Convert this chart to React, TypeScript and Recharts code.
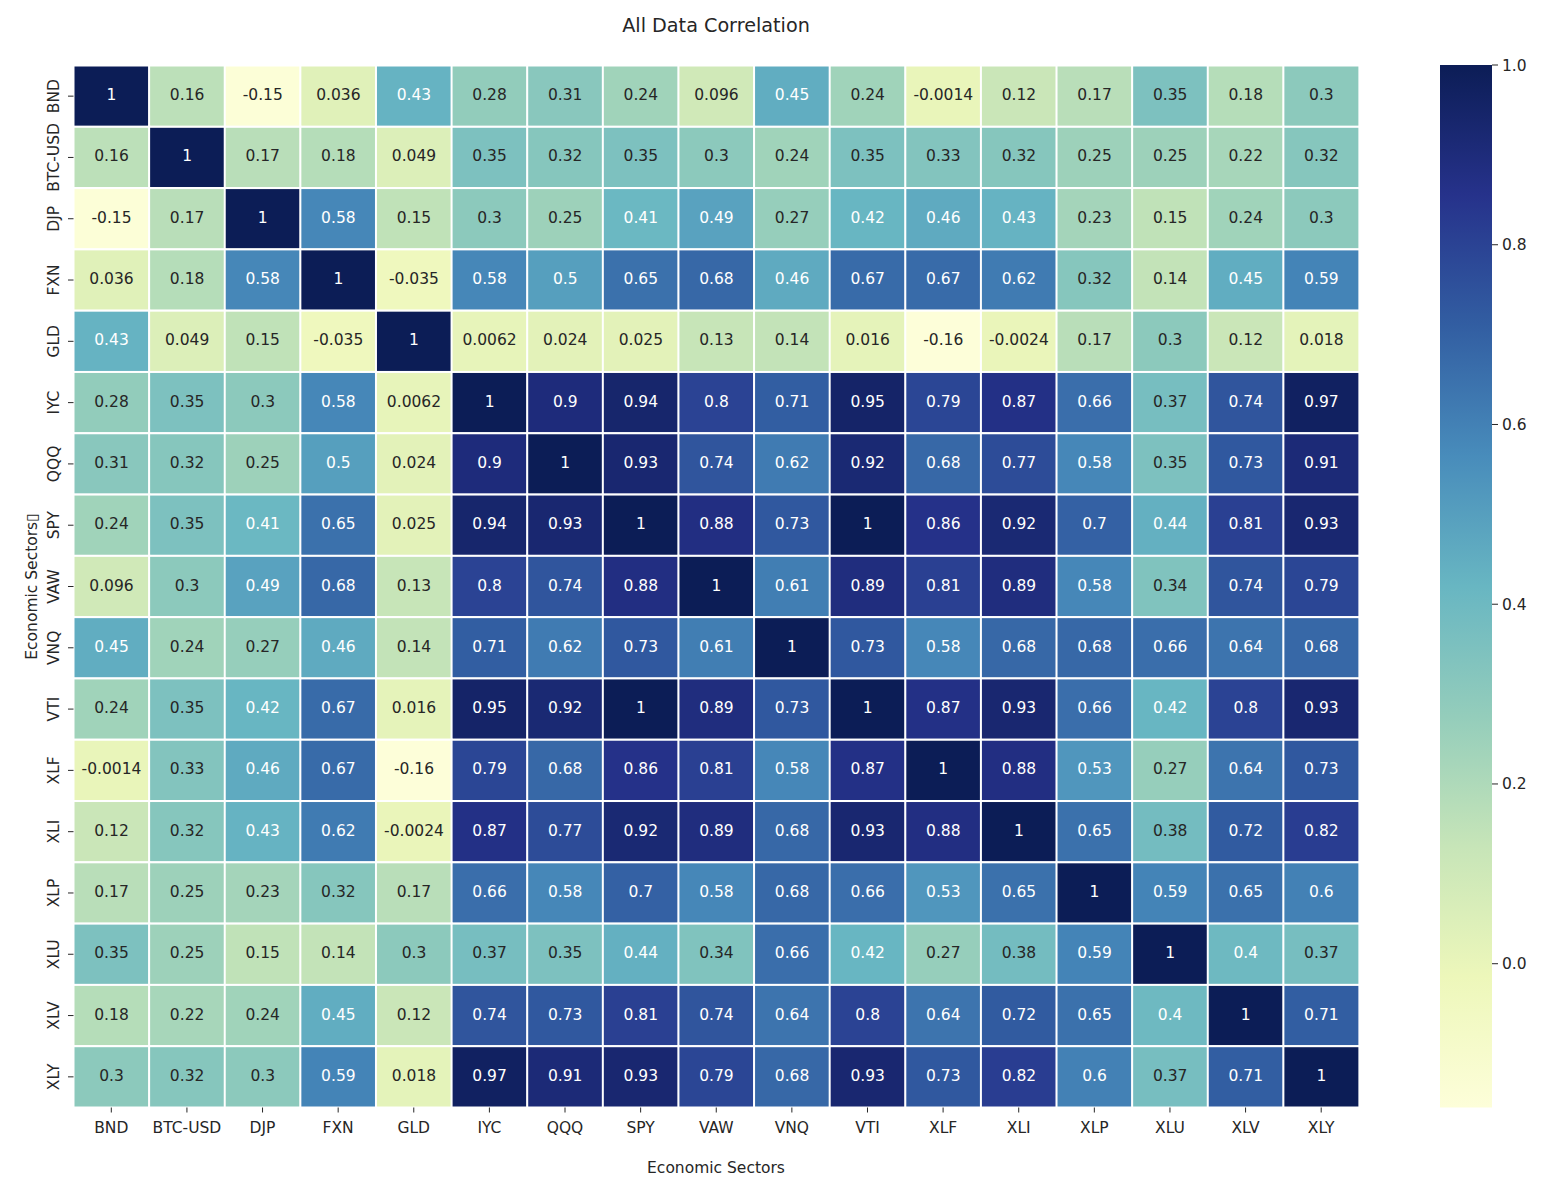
import React from 'react';
import { BarChart, Bar, XAxis, YAxis, ReferenceArea } from 'recharts';

const sectors = ['BND', 'BTC-USD', 'DJP', 'FXN', 'GLD', 'IYC', 'QQQ', 'SPY', 'VAW', 'VNQ', 'VTI', 'XLF', 'XLI', 'XLP', 'XLU', 'XLV', 'XLY'];

const BND = [1, 0.16, -0.15, 0.036, 0.43, 0.28, 0.31, 0.24, 0.096, 0.45, 0.24, -0.0014, 0.12, 0.17, 0.35, 0.18, 0.3];
const BTC_USD = [0.16, 1, 0.17, 0.18, 0.049, 0.35, 0.32, 0.35, 0.3, 0.24, 0.35, 0.33, 0.32, 0.25, 0.25, 0.22, 0.32];
const DJP = [-0.15, 0.17, 1, 0.58, 0.15, 0.3, 0.25, 0.41, 0.49, 0.27, 0.42, 0.46, 0.43, 0.23, 0.15, 0.24, 0.3];
const FXN = [0.036, 0.18, 0.58, 1, -0.035, 0.58, 0.5, 0.65, 0.68, 0.46, 0.67, 0.67, 0.62, 0.32, 0.14, 0.45, 0.59];
const GLD = [0.43, 0.049, 0.15, -0.035, 1, 0.0062, 0.024, 0.025, 0.13, 0.14, 0.016, -0.16, -0.0024, 0.17, 0.3, 0.12, 0.018];
const IYC = [0.28, 0.35, 0.3, 0.58, 0.0062, 1, 0.9, 0.94, 0.8, 0.71, 0.95, 0.79, 0.87, 0.66, 0.37, 0.74, 0.97];
const QQQ = [0.31, 0.32, 0.25, 0.5, 0.024, 0.9, 1, 0.93, 0.74, 0.62, 0.92, 0.68, 0.77, 0.58, 0.35, 0.73, 0.91];
const SPY = [0.24, 0.35, 0.41, 0.65, 0.025, 0.94, 0.93, 1, 0.88, 0.73, 1, 0.86, 0.92, 0.7, 0.44, 0.81, 0.93];
const VAW = [0.096, 0.3, 0.49, 0.68, 0.13, 0.8, 0.74, 0.88, 1, 0.61, 0.89, 0.81, 0.89, 0.58, 0.34, 0.74, 0.79];
const VNQ = [0.45, 0.24, 0.27, 0.46, 0.14, 0.71, 0.62, 0.73, 0.61, 1, 0.73, 0.58, 0.68, 0.68, 0.66, 0.64, 0.68];
const VTI = [0.24, 0.35, 0.42, 0.67, 0.016, 0.95, 0.92, 1, 0.89, 0.73, 1, 0.87, 0.93, 0.66, 0.42, 0.8, 0.93];
const XLF = [-0.0014, 0.33, 0.46, 0.67, -0.16, 0.79, 0.68, 0.86, 0.81, 0.58, 0.87, 1, 0.88, 0.53, 0.27, 0.64, 0.73];
const XLI = [0.12, 0.32, 0.43, 0.62, -0.0024, 0.87, 0.77, 0.92, 0.89, 0.68, 0.93, 0.88, 1, 0.65, 0.38, 0.72, 0.82];
const XLP = [0.17, 0.25, 0.23, 0.32, 0.17, 0.66, 0.58, 0.7, 0.58, 0.68, 0.66, 0.53, 0.65, 1, 0.59, 0.65, 0.6];
const XLU = [0.35, 0.25, 0.15, 0.14, 0.3, 0.37, 0.35, 0.44, 0.34, 0.66, 0.42, 0.27, 0.38, 0.59, 1, 0.4, 0.37];
const XLV = [0.18, 0.22, 0.24, 0.45, 0.12, 0.74, 0.73, 0.81, 0.74, 0.64, 0.8, 0.64, 0.72, 0.65, 0.4, 1, 0.71];
const XLY = [0.3, 0.32, 0.3, 0.59, 0.018, 0.97, 0.91, 0.93, 0.79, 0.68, 0.93, 0.73, 0.82, 0.6, 0.37, 0.71, 1];

const corrRows = [BND, BTC_USD, DJP, FXN, GLD, IYC, QQQ, SPY, VAW, VNQ, VTI, XLF, XLI, XLP, XLU, XLV, XLY];

const VMIN = -0.16;
const VMAX = 1.0;
const colorbarTicks = [0, 0.2, 0.4, 0.6, 0.8, 1.0];
// standard YlGnBu (used for the annotation text-contrast rule)
const YLGNBU = ['#ffffd9', '#edf8b1', '#c7e9b4', '#7fcdbb', '#41b6c4', '#1d91c0', '#225ea8', '#253494', '#081d58'];
// YlGnBu as it appears in the reference picture (slightly muted)
const YLGNBU_SHOWN = ['#fdfed9', '#edf7ba', '#c7e5b8', '#94cdbb', '#68b6c2', '#488cbb', '#325ea2', '#26328b', '#0c1d56'];

const FONT = 'DejaVu Sans';
const TEXT = '#262626';

const hexToRgb = (h: string) => [parseInt(h.slice(1, 3), 16), parseInt(h.slice(3, 5), 16), parseInt(h.slice(5, 7), 16)];

const colorFor = (v: number, pal: string[]): number[] => {
  let t = (v - VMIN) / (VMAX - VMIN);
  t = Math.max(0, Math.min(1, t));
  const pos = t * (pal.length - 1);
  const i = Math.min(Math.floor(pos), pal.length - 2);
  const f = pos - i;
  const a = hexToRgb(pal[i]);
  const b = hexToRgb(pal[i + 1]);
  return [0, 1, 2].map((k) => a[k] + (b[k] - a[k]) * f);
};

const rgbStr = (c: number[]) => `rgb(${c.map((x) => Math.round(x)).join(',')})`;

const luminance = (c: number[]) => {
  const lin = c.map((x) => {
    const s = x / 255;
    return s <= 0.03928 ? s / 12.92 : Math.pow((s + 0.055) / 1.055, 2.4);
  });
  return 0.2126 * lin[0] + 0.7152 * lin[1] + 0.0722 * lin[2];
};

const tableData = sectors.map((col, j) => {
  const o: any = { col };
  corrRows.forEach((row, i) => {
    o['u' + i] = 1;
    o['v' + i] = row[j];
  });
  return o;
});

const makeShape = (i: number) => (props: any) => {
  const { x, y, width, height, payload } = props;
  const v = payload['v' + i];
  const top = Math.min(y, y + height);
  const h = Math.abs(height);
  const fill = colorFor(v, YLGNBU_SHOWN);
  const tc = luminance(colorFor(v, YLGNBU)) > 0.408 ? TEXT : '#ffffff';
  return (
    <g>
      <rect x={x} y={top} width={width} height={h} fill={rgbStr(fill)} stroke="#ffffff" strokeWidth={2} />
      <text x={x + width / 2} y={top + h / 2 + 4} textAnchor="middle" fill={tc} fontSize={15.5} fontFamily={FONT}>
        {String(v)}
      </text>
    </g>
  );
};

const YTick = (props: any) => {
  const { y, payload } = props;
  const label = sectors[Math.floor(payload.value)];
  return (
    <text transform={`translate(58.5, ${y}) rotate(-90)`} textAnchor="middle" fill={TEXT} fontSize={15.5} fontFamily={FONT}>
      {label}
    </text>
  );
};

const XTick = (props: any) => {
  const { x, payload } = props;
  return (
    <text x={x} y={1133.3} textAnchor="middle" fill={TEXT} fontSize={15.5} fontFamily={FONT}>
      {payload.value}
    </text>
  );
};

const CbTick = (props: any) => {
  const { x, y, payload } = props;
  return (
    <text x={x} y={y + 5.5} textAnchor="start" fill={TEXT} fontSize={15.5} fontFamily={FONT}>
      {Number(payload.value).toFixed(1)}
    </text>
  );
};

export default function App() {
  return (
    <div style={{ position: 'absolute', left: 0, top: 0, width: 1548, height: 1188, background: '#ffffff', fontFamily: FONT }}>
      <div style={{ position: 'absolute', left: 0, top: 0 }}>
        <BarChart
          width={1548}
          height={1188}
          data={tableData}
          margin={{ top: 65.5, right: 189, bottom: 30.5, left: 13.5 }}
          barCategoryGap={0}
          barGap={0}
        >
          <XAxis
            dataKey="col"
            type="category"
            interval={0}
            height={50}
            axisLine={false}
            tickLine={{ stroke: TEXT, strokeWidth: 1 }}
            tickSize={5}
            tick={<XTick />}
          />
          <YAxis
            type="number"
            domain={[0, sectors.length]}
            reversed
            allowDecimals
            ticks={sectors.map((_, i) => i + 0.5)}
            interval={0}
            width={60}
            axisLine={false}
            tickLine={{ stroke: TEXT, strokeWidth: 1 }}
            tickSize={5.5}
            tick={<YTick />}
          />
          {sectors.map((s, i) => (
            <Bar key={s} dataKey={'u' + i} stackId="cells" shape={makeShape(i)} isAnimationActive={false} />
          ))}
        </BarChart>
      </div>
      <div style={{ position: 'absolute', left: 1400, top: 0 }}>
        <BarChart width={148} height={1188} data={[{ k: 'cb' }]} margin={{ top: 65, right: 6, bottom: 80.5, left: 40 }}>
          <defs>
            <linearGradient id="cbGrad" x1="0" y1="0" x2="0" y2="1">
              {YLGNBU_SHOWN.slice()
                .reverse()
                .map((c, k) => (
                  <stop key={k} offset={k / (YLGNBU_SHOWN.length - 1)} stopColor={c} />
                ))}
            </linearGradient>
          </defs>
          <XAxis dataKey="k" hide />
          <YAxis
            type="number"
            orientation="right"
            domain={[VMIN, VMAX]}
            allowDataOverflow
            ticks={colorbarTicks}
            interval={0}
            width={50}
            axisLine={false}
            tickLine={{ stroke: TEXT, strokeWidth: 1 }}
            tickSize={6}
            tickMargin={4}
            tick={<CbTick />}
          />
          <ReferenceArea y1={VMIN} y2={VMAX} fill="url(#cbGrad)" fillOpacity={1} stroke="none" ifOverflow="visible" />
        </BarChart>
      </div>
      <svg width={1548} height={1188} style={{ position: 'absolute', left: 0, top: 0, pointerEvents: 'none' }}>
        <text x={716} y={31.5} textAnchor="middle" fill={TEXT} fontSize={19.2} fontFamily={FONT}>
          All Data Correlation
        </text>
        <text x={716} y={1173} textAnchor="middle" fill={TEXT} fontSize={15.5} fontFamily={FONT}>
          Economic Sectors
        </text>
        <text transform="translate(36.5, 586.5) rotate(-90)" textAnchor="middle" fill={TEXT} fontSize={15.5} fontFamily={FONT}>
          Economic Sectors▯
        </text>
      </svg>
    </div>
  );
}
